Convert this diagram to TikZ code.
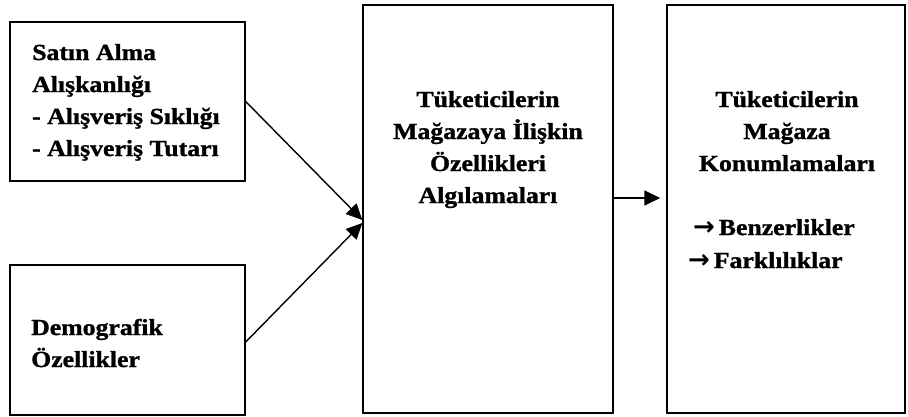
\documentclass[tikz,border=0pt]{standalone}
\usepackage{fontspec}
\setmainfont[FakeStretch=1.12, BoldFeatures={FakeBold=1.2}]{Liberation Serif}
\newfontfamily\arrfont{DejaVu Sans}
\usetikzlibrary{arrows.meta}
\tikzset{
  boxnode/.style={draw=black, line width=1.4pt, inner sep=0pt},
  txt/.style={font=\fontsize{23}{32}\selectfont\bfseries, inner sep=0pt},
  conn/.style={line width=1.4pt, -{Triangle[length=16pt,width=15pt]}}
}
\newcommand{\myarr}{{\arrfont\fontsize{26}{32}\selectfont\bfseries →}}
\begin{document}
\begin{tikzpicture}[x=1pt,y=-1pt]
\useasboundingbox[fill=white] (0,0) rectangle (908,416);
% boxes
\node[boxnode, minimum width=235pt, minimum height=159pt] (b1) at (127.5,101.5) {};
\node[boxnode, minimum width=235pt, minimum height=150pt] (b2) at (127.5,340) {};
\node[boxnode, minimum width=250pt, minimum height=408pt] (b3) at (488,209) {};
\node[boxnode, minimum width=238pt, minimum height=408pt] (b4) at (786,209) {};
% box 1 text
\node[txt, anchor=base west] (t1a) at (32,60) {Satın Alma};
\node[txt, anchor=base west] (t1b) at (32,92) {Alışkanlığı};
\node[txt, anchor=base west] (t1c) at (32,124) {- Alışveriş Sıklığı};
\node[txt, anchor=base west] (t1d) at (32,156) {- Alışveriş Tutarı};
% box 2 text
\node[txt, anchor=base west] (t2a) at (31,335) {Demografik};
\node[txt, anchor=base west] (t2b) at (31,367) {Özellikler};
% box 3 text
\node[txt, anchor=base] (t3a) at (488,107) {Tüketicilerin};
\node[txt, anchor=base] (t3b) at (488,139) {Mağazaya İlişkin};
\node[txt, anchor=base] (t3c) at (488,171) {Özellikleri};
\node[txt, anchor=base] (t3d) at (488,203) {Algılamaları};
% box 4 text
\node[txt, anchor=base west] (t4d) at (693,235) {\myarr\,Benzerlikler};
\node[txt, anchor=base west] (t4e) at (688,268) {\myarr\,Farklılıklar};
\node[txt, anchor=base] (t4a) at (787,107) {Tüketicilerin};
\node[txt, anchor=base] (t4b) at (787,139) {Mağaza};
\node[txt, anchor=base] (t4c) at (787,171) {Konumlamaları};
% connectors
\draw[conn] (b1.east) -- ([yshift=-11pt]b3.west);
\draw[conn] ([yshift=-2pt]b2.east) -- ([yshift=-14pt]b3.west);
\draw[conn] ([yshift=11pt]b3.east) -- ([yshift=11pt, xshift=-6pt]b4.west);
\end{tikzpicture}
\end{document}
